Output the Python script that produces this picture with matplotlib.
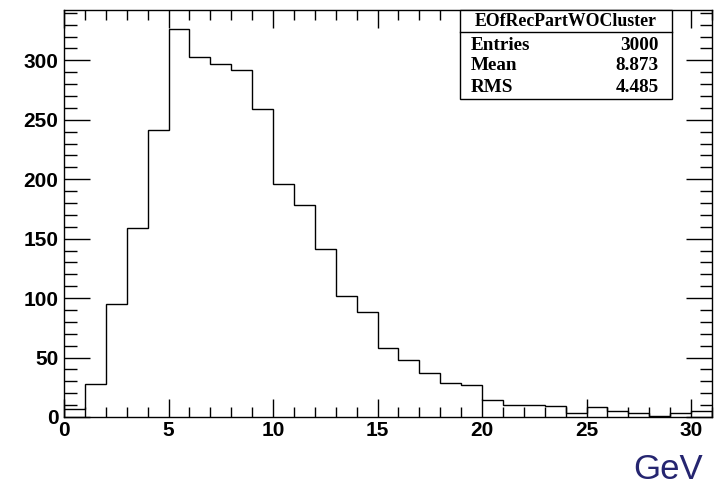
import matplotlib
matplotlib.use("Agg")
import matplotlib.pyplot as plt
import numpy as np

# energy of reconstructed particles without cluster, 1 GeV bins
bin_edges = np.arange(0, 32, 1)
counts = [7, 28, 95, 159, 241, 326, 303, 297, 292, 259,
          196, 178, 141, 102, 88, 58, 48, 37, 29, 27,
          14, 10, 10, 9, 3, 8, 5, 3, 1, 3, 5]
hist_name = "EOfRecPartWOCluster"
stat_names = ["Entries", "Mean", "RMS"]
stat_values = ["3000", "8.873", "4.485"]
x_title = "GeV"

W, H = 715, 487


def fx(px):
    return px / W


def fy(py):
    return 1 - py / H


fig = plt.figure(figsize=(W / 100, H / 100), dpi=100)
ax = fig.add_axes([fx(64), fy(417), fx(712) - fx(64), fy(10) - fy(417)])

ax.stairs(counts, bin_edges, color="black", linewidth=1)
ax.set_xlim(0, 31)
ax.set_ylim(0, max(counts) * 1.05)

ax.set_xticks(np.arange(0, 31, 5))
ax.set_xticks(np.arange(0, 32, 1), minor=True)
ax.set_yticks(np.arange(0, 301, 50))
ax.set_yticks(np.arange(0, 341, 10), minor=True)
ax.tick_params(which="both", direction="in", top=True, right=True, width=1,
               labelsize=15)
ax.tick_params(axis="x", which="major", length=13, pad=3)
ax.tick_params(axis="x", which="minor", length=7)
ax.tick_params(axis="y", which="major", length=19, pad=4)
ax.tick_params(axis="y", which="minor", length=9)
for lab in ax.get_xticklabels() + ax.get_yticklabels():
    lab.set_fontfamily("Liberation Sans")
    lab.set_fontweight("bold")
for sp in ax.spines.values():
    sp.set_linewidth(1)

# stats box
box_l, box_r, box_t, box_b, sep = 460, 672, 10, 99, 32
fig.patches.append(plt.Rectangle((fx(box_l), fy(box_b)), fx(box_r) - fx(box_l),
                                 fy(box_t) - fy(box_b), transform=fig.transFigure,
                                 facecolor="white", edgecolor="black", linewidth=1,
                                 zorder=5))
fig.lines.append(plt.Line2D([fx(box_l), fx(box_r)], [fy(sep), fy(sep)],
                            transform=fig.transFigure, color="black", linewidth=1,
                            zorder=6))
serif = dict(family="Liberation Serif", weight="bold", zorder=7)
fig.text(fx((box_l + box_r) / 2), fy(21.5), hist_name, ha="center", va="center",
         size=12.8, **serif)
for i, (name, val) in enumerate(zip(stat_names, stat_values)):
    y = fy(45 + i * 21)
    fig.text(fx(471), y, name, ha="left", va="center", size=13.8, **serif)
    fig.text(fx(659), y, val, ha="right", va="center", size=13.8, **serif)

fig.text(fx(703), fy(486), x_title, ha="right", va="bottom",
         family="Liberation Sans", size=25, color="#252570")

fig.savefig("out.png", dpi=100)
